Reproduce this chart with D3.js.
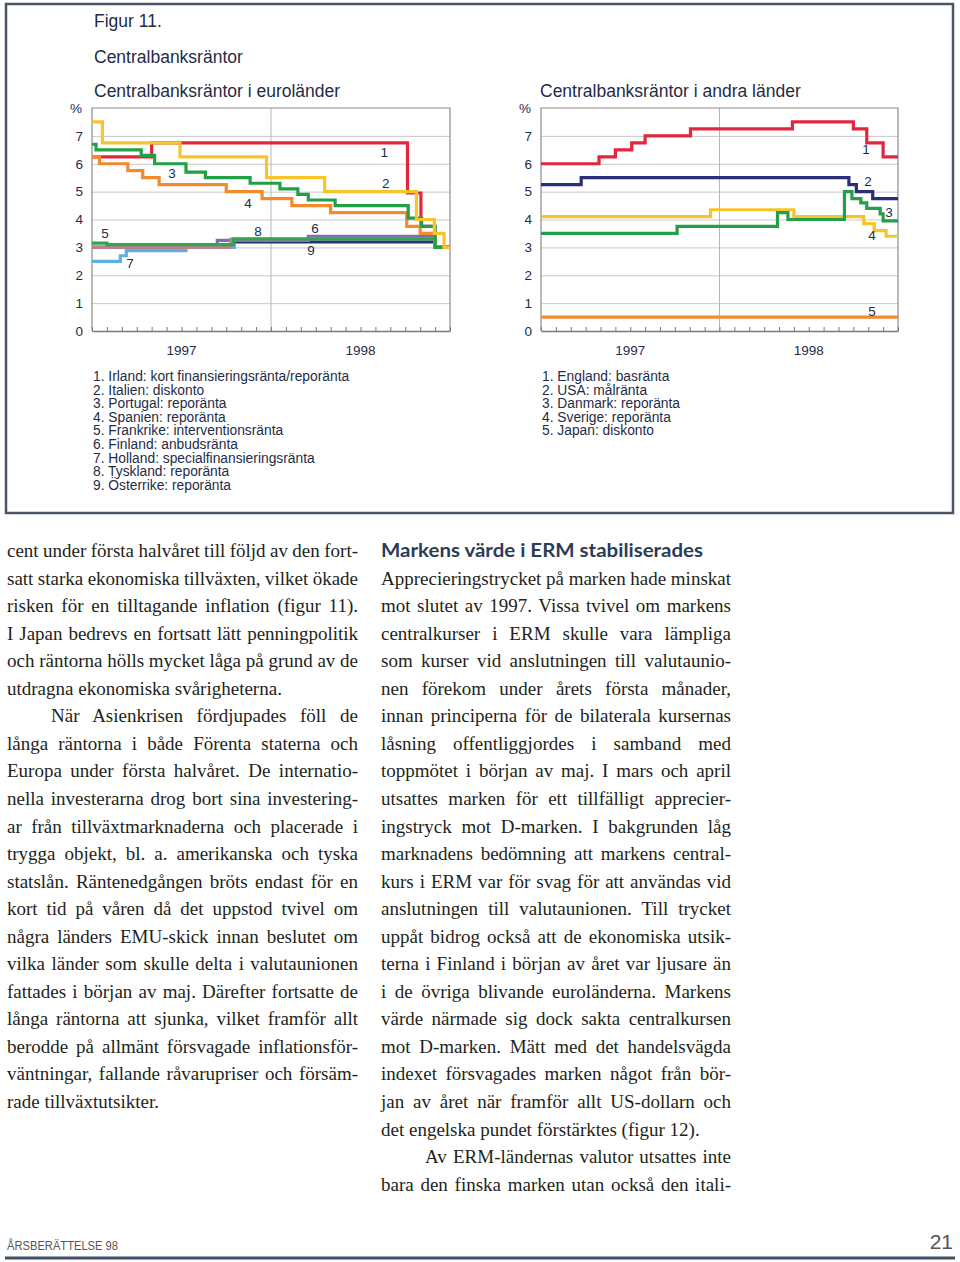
<!DOCTYPE html>
<html>
<head>
<meta charset="utf-8">
<script src="https://cdn.jsdelivr.net/npm/d3@7"></script>
<style>
  body { margin: 0; background: #fff; }
  svg { display: block; }
</style>
</head>
<body>
<svg id="page" width="960" height="1262"></svg>
<script>
// ---- data: [month since jan 1997, rate %] at each change ----
const months = 24
const yTicks = [0, 1, 2, 3, 4, 5, 6, 7]
const years = ["1997", "1998"]

const irland    = [[0, 6.25], [4.0, 6.75], [21.15, 4.95], [22.05, 3.75], [23.0, 3.0]]
const italien   = [[0, 7.5], [0.7, 6.75], [5.9, 6.25], [11.7, 5.5], [15.6, 5.0], [21.75, 4.0], [22.95, 3.5], [23.6, 3.0]]
const portugal  = [[0, 6.7], [0.27, 6.5], [3.3, 6.3], [4.2, 6.0], [6.3, 5.7], [7.6, 5.5], [10.6, 5.3], [12.6, 5.1], [13.8, 4.9], [14.5, 4.7], [16.3, 4.5], [21.2, 4.05], [22.1, 3.75], [23.0, 3.0]]
const spanien   = [[0, 6.25], [0.5, 6.0], [2.4, 5.75], [3.4, 5.5], [4.5, 5.25], [9.0, 5.0], [11.4, 4.75], [13.4, 4.5], [16.0, 4.25], [21.1, 3.75], [22.0, 3.5], [23.0, 3.0]]
const frankrike = [[0, 3.15], [1.0, 3.1], [9.5, 3.3], [23.0, 3.0]]
const finland   = [[0, 3.0], [8.4, 3.25], [14.5, 3.4], [23.0, 3.0]]
const holland   = [[0, 2.5], [1.9, 2.7], [2.3, 2.88], [6.3, 3.0], [9.5, 3.3], [23.0, 3.0]]
const tyskland  = [[0, 3.0], [9.3, 3.3], [23.0, 3.0]]
const osterrike = [[0, 3.0], [9.5, 3.2], [23.0, 3.0]]

const england = [[0, 6.0], [3.9, 6.25], [5.0, 6.5], [6.1, 6.75], [7.0, 7.0], [10.05, 7.25], [16.9, 7.5], [21.0, 7.25], [21.9, 6.75], [23.0, 6.25]]
const usa     = [[0, 5.25], [2.7, 5.5], [20.7, 5.25], [21.2, 5.0], [22.3, 4.75]]
const danmark = [[0, 3.5], [9.15, 3.75], [15.9, 4.25], [16.6, 4.0], [20.4, 5.0], [20.9, 4.75], [21.5, 4.6], [21.9, 4.4], [22.8, 4.2], [23.0, 3.95]]
const sverige = [[0, 4.1], [11.4, 4.35], [17.0, 4.1], [21.7, 3.85], [22.4, 3.6], [23.2, 3.4]]
const japan   = [[0, 0.5]]

const euroLegend = ["1. Irland: kort finansieringsränta/reporänta", "2. Italien: diskonto", "3. Portugal: reporänta",
  "4. Spanien: reporänta", "5. Frankrike: interventionsränta", "6. Finland: anbudsränta",
  "7. Holland: specialfinansieringsränta", "8. Tyskland: reporänta", "9. Österrike: reporänta"]
const otherLegend = ["1. England: basränta", "2. USA: målränta", "3. Danmark: reporänta", "4. Sverige: reporänta", "5. Japan: diskonto"]

// series number label anchors, in [month, rate]
const euroLabels = [["1", 19.6, 6.42], ["2", 19.7, 5.31], ["3", 5.36, 5.67], ["4", 10.46, 4.59], ["5", 0.87, 3.52],
  ["6", 14.95, 3.7], ["7", 2.55, 2.44], ["8", 11.13, 3.59], ["9", 14.68, 2.91]]
const otherLabels = [["1", 21.85, 6.53], ["2", 21.98, 5.38], ["3", 23.4, 4.27], ["4", 22.25, 3.44], ["5", 22.25, 0.72]]

// body text lines, "¶" = paragraph ends (left unjustified), ">" = indented
const leftLines = ["cent under första halvåret till följd av den fort-", "satt starka ekonomiska tillväxten, vilket ökade",
  "risken för en tilltagande inflation (figur 11).", "I Japan bedrevs en fortsatt lätt penningpolitik",
  "och räntorna hölls mycket låga på grund av de", "utdragna ekonomiska svårigheterna.¶",
  ">När Asienkrisen fördjupades föll de", "långa räntorna i både Förenta staterna och",
  "Europa under första halvåret. De internatio-", "nella investerarna drog bort sina investering-",
  "ar från tillväxtmarknaderna och placerade i", "trygga objekt, bl. a. amerikanska och tyska",
  "statslån. Räntenedgången bröts endast för en", "kort tid på våren då det uppstod tvivel om",
  "några länders EMU-skick innan beslutet om", "vilka länder som skulle delta i valutaunionen",
  "fattades i början av maj. Därefter fortsatte de", "långa räntorna att sjunka, vilket framför allt",
  "berodde på allmänt försvagade inflationsför-", "väntningar, fallande råvarupriser och försäm-",
  "rade tillväxtutsikter.¶"]
const rightHeading = "Markens värde i ERM stabiliserades"
const rightLines = ["Apprecieringstrycket på marken hade minskat", "mot slutet av 1997. Vissa tvivel om markens",
  "centralkurser i ERM skulle vara lämpliga", "som kurser vid anslutningen till valutaunio-",
  "nen förekom under årets första månader,", "innan principerna för de bilaterala kursernas",
  "låsning offentliggjordes i samband med", "toppmötet i början av maj. I mars och april",
  "utsattes marken för ett tillfälligt apprecier-", "ingstryck mot D-marken. I bakgrunden låg",
  "marknadens bedömning att markens central-", "kurs i ERM var för svag för att användas vid",
  "anslutningen till valutaunionen. Till trycket", "uppåt bidrog också att de ekonomiska utsik-",
  "terna i Finland i början av året var ljusare än", "i de övriga blivande euroländerna. Markens",
  "värde närmade sig dock sakta centralkursen", "mot D-marken. Mätt med det handelsvägda",
  "indexet försvagades marken något från bör-", "jan av året när framför allt US-dollarn och",
  "det engelska pundet förstärktes (figur 12).¶", ">Av ERM-ländernas valutor utsattes inte",
  "bara den finska marken utan också den itali-"]

// ---- styles ----
const ink = "#1f2c47"
const sans = "'Liberation Sans', Arial, sans-serif"
const red = "#e2263e", yellow = "#f7c42c", green = "#22a047", orange = "#f08b30"
const lightBlue = "#5cb0e2", navy = "#2b2e7a", lavender = "#7d6fae", mauve = "#bf7f8e"

const svg = d3.select("#page")

// frame round the figure
svg.append("rect")
  .attr("x", 6).attr("y", 4).attr("width", 947).attr("height", 509)
  .attr("fill", "none").attr("stroke", "#4a5663").attr("stroke-width", 2.5)

// titles
const titles = [["Figur 11.", 94, 27], ["Centralbanksräntor", 94, 63], ["Centralbanksräntor i euroländer", 94, 97], ["Centralbanksräntor i andra länder", 540, 97]]
svg.selectAll("text.title").data(titles).enter().append("text")
  .attr("class", "title")
  .attr("x", d => d[1]).attr("y", d => d[2])
  .attr("font-family", sans).attr("font-size", 17.5).attr("fill", ink)
  .text(d => d[0])

function drawPanel(x0, x1, series, labels, legend) {
  const x = d3.scaleLinear().domain([0, months]).range([x0, x1])
  const y = d3.scaleLinear().domain([0, 8]).range([331, 108])
  const g = svg.append("g").attr("font-family", sans)

  // horizontal grid + y labels
  g.append("g")
    .attr("transform", `translate(${x0},0)`)
    .call(d3.axisLeft(y).tickValues(yTicks).tickSize(-(x1 - x0)).tickPadding(9).tickFormat(d3.format("d")))
    .call(a => {
      a.select(".domain").remove()
      a.selectAll("line").attr("stroke", "#c8c8c8").attr("stroke-width", 1)
      a.selectAll("text").attr("font-size", 13.5).attr("fill", ink).attr("font-family", sans)
    })
  g.append("text").attr("x", x0 - 10).attr("y", 113).attr("text-anchor", "end")
    .attr("font-size", 13.5).attr("fill", ink).text("%")

  // year divider
  g.append("line")
    .attr("x1", x(12)).attr("x2", x(12)).attr("y1", y(8)).attr("y2", y(0))
    .attr("stroke", "#b5b5b5")

  // box: top, right, left
  g.append("path")
    .attr("d", `M${x0},${y(0)}V${y(8)}H${x1}V${y(0)}`)
    .attr("fill", "none").attr("stroke", "#8c8c8c").attr("stroke-width", 1.2)

  // bottom axis with monthly ticks
  g.append("g")
    .attr("transform", `translate(0,${y(0)})`)
    .call(d3.axisBottom(x).tickValues(d3.range(0, months + 1)).tickSize(-4).tickSizeOuter(0).tickFormat(""))
    .call(a => {
      a.select(".domain").attr("stroke", "#7a7a7a").attr("stroke-width", 1.5)
      a.selectAll("line").attr("stroke", "#7a7a7a")
    })

  g.selectAll("text.year").data(years).enter().append("text")
    .attr("class", "year")
    .attr("x", (d, i) => x(i * 12 + 6)).attr("y", 355)
    .attr("text-anchor", "middle").attr("font-size", 13.5).attr("fill", ink)
    .text(d => d)

  // step lines
  const line = d3.line().x(d => x(d[0])).y(d => y(d[1])).curve(d3.curveStepAfter)
  g.selectAll("path.rate").data(series).enter().append("path")
    .attr("class", "rate")
    .attr("d", s => line(s.data.concat([[months, s.data[s.data.length - 1][1]]])))
    .attr("fill", "none").attr("stroke", s => s.color)
    .attr("stroke-width", 3.2).attr("stroke-linejoin", "miter")

  g.selectAll("text.num").data(labels).enter().append("text")
    .attr("class", "num")
    .attr("x", d => x(d[1])).attr("y", d => y(d[2]))
    .attr("dy", "0.36em").attr("text-anchor", "middle")
    .attr("font-size", 13.5).attr("fill", ink)
    .text(d => d[0])

  g.selectAll("text.leg").data(legend).enter().append("text")
    .attr("class", "leg")
    .attr("x", x0 + 1).attr("y", (d, i) => 381 + i * 13.6)
    .attr("font-size", 13.8).attr("fill", ink)
    .text(d => d)
}

drawPanel(92, 450, [
  { data: irland, color: red },
  { data: osterrike, color: navy },
  { data: holland, color: lightBlue },
  { data: finland, color: lavender },
  { data: tyskland, color: mauve },
  { data: frankrike, color: "#2fa552" },
  { data: spanien, color: orange },
  { data: portugal, color: green },
  { data: italien, color: yellow }
], euroLabels, euroLegend)

drawPanel(541, 898, [
  { data: japan, color: orange },
  { data: sverige, color: yellow },
  { data: danmark, color: green },
  { data: usa, color: navy },
  { data: england, color: red }
], otherLabels, otherLegend)

// ---- body text, justified per line ----
const lineStep = 27.55
function drawColumn(lines, x0, width, firstRow) {
  lines.forEach((raw, i) => {
    let s = raw
    const last = s.endsWith("¶")
    if (last) s = s.slice(0, -1)
    const indent = s.startsWith(">") ? 44 : 0
    if (indent) s = s.slice(1)
    const t = svg.append("text")
      .attr("x", x0 + indent).attr("y", 557 + (firstRow + i) * lineStep)
      .attr("font-family", "'Liberation Serif', 'Times New Roman', serif")
      .attr("font-size", 19).attr("fill", "#231f20")
      .text(s)
    if (!last) {
      const gaps = s.split(" ").length - 1
      const natural = t.node().getComputedTextLength()
      if (gaps > 0) t.style("word-spacing", ((width - indent - natural) / gaps) + "px")
    }
  })
}
drawColumn(leftLines, 7, 351, 0)
svg.append("text")
  .attr("x", 381).attr("y", 557)
  .attr("font-family", "Lato, 'Open Sans', sans-serif").attr("font-weight", 700)
  .attr("font-size", 18).attr("fill", "#2b3c58")
  .attr("textLength", 322).attr("lengthAdjust", "spacingAndGlyphs")
  .text(rightHeading)
drawColumn(rightLines, 381, 350, 1)

// ---- footer ----
svg.append("text")
  .attr("x", 7).attr("y", 1250)
  .attr("font-family", sans).attr("font-size", 12).attr("fill", "#555")
  .attr("textLength", 111).attr("lengthAdjust", "spacingAndGlyphs")
  .text("ÅRSBERÄTTELSE 98")
svg.append("text")
  .attr("x", 953).attr("y", 1249).attr("text-anchor", "end")
  .attr("font-family", sans).attr("font-size", 21).attr("fill", "#555")
  .text("21")
svg.append("line")
  .attr("x1", 5).attr("x2", 955).attr("y1", 1258).attr("y2", 1258)
  .attr("stroke", "#3f5166").attr("stroke-width", 3)
</script>
</body>
</html>
